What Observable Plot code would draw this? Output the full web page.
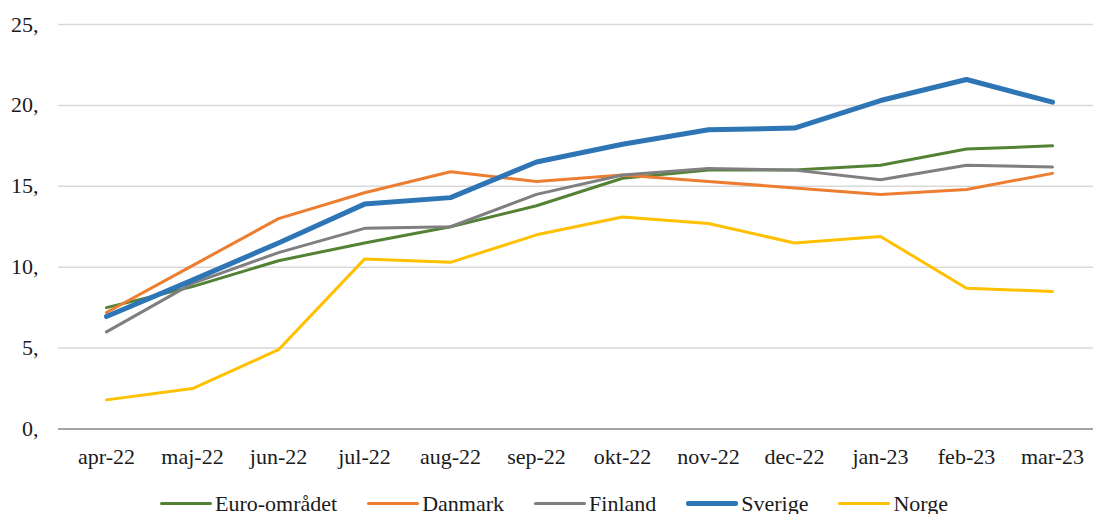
<!DOCTYPE html>
<html>
<head>
<meta charset="utf-8">
<script src="https://cdn.jsdelivr.net/npm/d3@7"></script>
<script src="https://cdn.jsdelivr.net/npm/@observablehq/plot@0.6"></script>
<style>
  html, body { margin: 0; padding: 0; background: #fff; overflow: hidden; }
  #wrap { position: relative; width: 1093px; height: 514px; font-family: "Liberation Serif", "Times New Roman", serif; }
  #legend { position: absolute; left: 160px; top: 492.6px; height: 22px; line-height: 22px; display: flex; align-items: center; font-size: 22px; color: #1a1a1a; white-space: nowrap; }
  .item { display: flex; align-items: center; margin-right: 30px; }
  .sw { width: 52px; margin-right: 3px; border-radius: 2px; }
</style>
</head>
<body>
<div id="wrap"><div id="chart"></div><div id="legend"></div></div>
<script>
const months = ["apr-22","maj-22","jun-22","jul-22","aug-22","sep-22","okt-22","nov-22","dec-22","jan-23","feb-23","mar-23"];
const seriesNames = ["Euro-området","Danmark","Finland","Sverige","Norge"];
const seriesColors = ["#548235","#ED7D31","#7F7F7F","#2E75B6","#FFC000"];
const seriesWidths = [3, 3, 3, 5, 3];
const euro    = [7.5, 8.8, 10.4, 11.5, 12.5, 13.8, 15.5, 16.0, 16.0, 16.3, 17.3, 17.5];
const danmark = [7.2, 10.1, 13.0, 14.6, 15.9, 15.3, 15.7, 15.3, 14.9, 14.5, 14.8, 15.8];
const finland = [6.0, 9.0, 10.9, 12.4, 12.5, 14.5, 15.7, 16.1, 16.0, 15.4, 16.3, 16.2];
const sverige = [6.95, 9.2, 11.5, 13.9, 14.3, 16.5, 17.6, 18.5, 18.6, 20.3, 21.6, 20.2];
const norge   = [1.8, 2.5, 4.9, 10.5, 10.3, 12.0, 13.1, 12.7, 11.5, 11.9, 8.7, 8.5];
const yTicks = [0, 5, 10, 15, 20, 25];

const values = [euro, danmark, finland, sverige, norge];
const rows = [];
seriesNames.forEach((s, i) => months.forEach((m, j) => rows.push({series: s, month: m, value: values[i][j]})));

const lineMarks = seriesNames.map((s, i) =>
  Plot.lineY(rows.filter(d => d.series === s), {
    x: "month", y: "value", stroke: seriesColors[i], strokeWidth: seriesWidths[i],
    strokeLinecap: "round", strokeLinejoin: "round"
  })
);

const chart = Plot.plot({
  width: 1093,
  height: 470,
  marginLeft: 58,
  marginRight: 0,
  marginTop: 24,
  marginBottom: 41.5,
  style: { fontFamily: "'Liberation Serif', 'Times New Roman', serif", fontSize: "22px", color: "#1a1a1a", background: "#fff" },
  x: { type: "point", domain: months, range: [103, 1054], padding: 0, label: null },
  y: { domain: [0, 25], label: null },
  marks: [
    Plot.ruleY(yTicks.filter(t => t > 0), { stroke: "#d9d9d9", strokeWidth: 1.5 }),
    Plot.ruleY([0], { stroke: "#868686", strokeWidth: 1.5 }),
    ...lineMarks,
    Plot.axisX({ tickSize: 0, tickPadding: 19, fontSize: 22, label: null }),
    Plot.axisY({ ticks: yTicks, tickSize: 0, tickPadding: 20, fontSize: 22, label: null, tickFormat: d => d + "," })
  ]
});
document.getElementById("chart").appendChild(chart);

const legend = document.getElementById("legend");
seriesNames.forEach((s, i) => {
  const it = document.createElement("div");
  it.className = "item";
  const sw = document.createElement("span");
  sw.className = "sw";
  sw.style.height = seriesWidths[i] + "px";
  sw.style.background = seriesColors[i];
  const tx = document.createElement("span");
  tx.textContent = s;
  it.appendChild(sw); it.appendChild(tx);
  legend.appendChild(it);
});
</script>
</body>
</html>
